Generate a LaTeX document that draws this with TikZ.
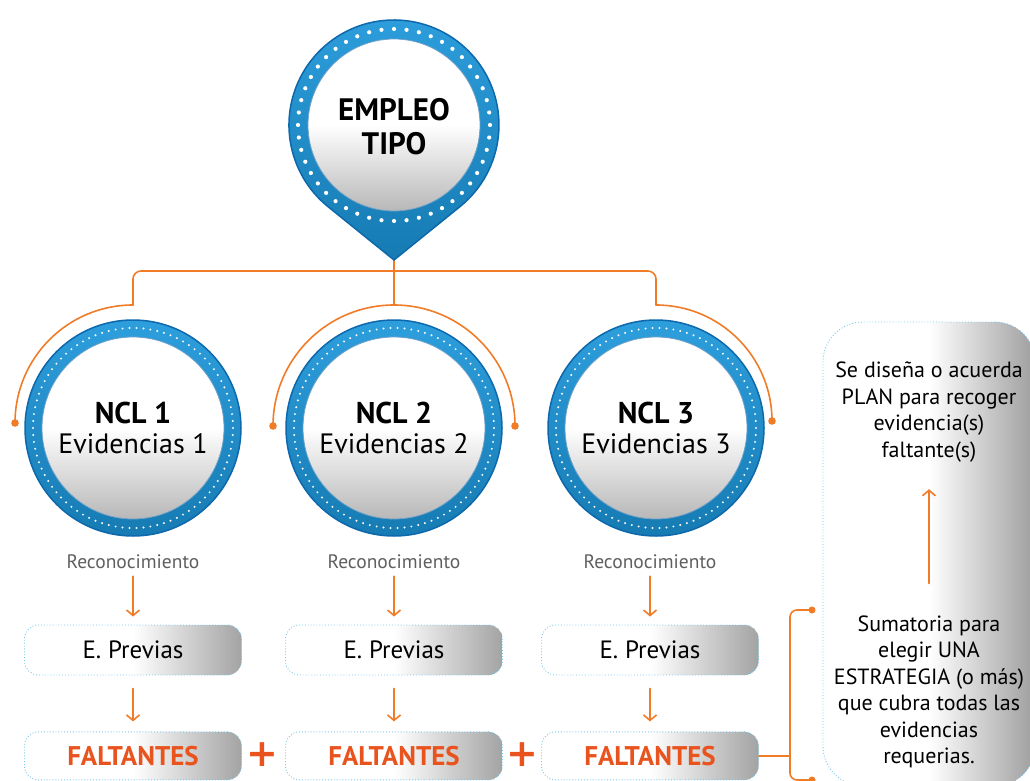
\documentclass[tikz,border=0pt]{standalone}
\usepackage{xcolor}
\usepackage{fontspec}
\setmainfont{PT Sans}
\newfontfamily\plusfont{DejaVu Sans}
\usetikzlibrary{positioning,arrows.meta}

\definecolor{ringblue}{RGB}{27,150,218}
\definecolor{ringedge}{RGB}{14,104,172}
\definecolor{linkorange}{RGB}{241,124,40}
\definecolor{missred}{RGB}{233,83,30}
\definecolor{boxdots}{RGB}{120,200,235}
\definecolor{softgrey}{RGB}{95,95,95}

\begin{document}
\begin{tikzpicture}[x=1pt, y=1pt,
		link/.style={draw=linkorange, line width=1.6pt, line cap=round},
		linkarrow/.style={link, -{Straight Barb[length=5.5pt, width=13pt]}},
		ring/.style={top color=ringblue!92!white, bottom color=ringblue!82!black, draw=ringedge, line width=1.5pt},
		face/.style={top color=white, bottom color=black!28, middle color=white, draw=ringedge!60, line width=0.8pt},
		headtext/.style={align=center, inner sep=0pt, font=\fontsize{31}{34}\selectfont\bfseries},
		ncltext/.style={align=center, inner sep=0pt, font=\fontsize{28}{30}\selectfont},
		rectext/.style={inner sep=0pt, text=softgrey, font=\fontsize{19.5}{22}\selectfont},
		evbox/.style={rounded corners=14pt, minimum width=217pt, minimum height=50pt, draw=boxdots, dotted, line width=0.9pt, left color=white, right color=black!36, middle color=white, text=black, font=\fontsize{25}{28}\selectfont},
		missbox/.style={evbox, minimum height=48pt, text=missred, font=\fontsize{27}{29}\selectfont\bfseries},
		plussign/.style={inner sep=0pt, text=missred, font=\plusfont\fontsize{38}{40}\selectfont\bfseries},
		planbox/.style={rounded corners=40pt, minimum width=212pt, minimum height=464pt, draw=boxdots, dotted, line width=0.9pt, left color=white, right color=black!38, middle color=white},
		plantext/.style={align=center, inner sep=0pt, font=\fontsize{22}{26.5}\selectfont}
	]
	\useasboundingbox (0,0) rectangle (1030,-781);

	\coordinate (pintip) at (394,-260);
	\coordinate (top1) at (133,-305);
	\coordinate (top2) at (394,-305);
	\coordinate (top3) at (656,-305);
	\draw[link, rounded corners=8pt] (top1) |- (394,-271) -| (top3);
	\draw[link] (pintip) -- (top2);
	\draw[link] (top1) arc[start angle=90, end angle=180, radius=118] coordinate (dot1);
	\draw[link] (top2) arc[start angle=90, end angle=180, radius=121] coordinate (dot2);
	\draw[link] (top2) arc[start angle=90, end angle=0, radius=121] coordinate (dot3);
	\draw[link] (top3) arc[start angle=90, end angle=0, radius=116] coordinate (dot4);
	\foreach \d in {dot1,dot2,dot3,dot4}
		\fill[linkorange] (\d) circle (3.8);

	\filldraw[ring] (pintip) -- (459.9,-206.7) arc[start angle=-51.1, end angle=231.1, radius=105] -- cycle;
	\filldraw[face] (394,-125) circle (86);
	\foreach \a in {0,7.5,...,352.5}
		\fill[white] (394,-125) ++(\a:96) circle (2.1);
	\node[headtext] (empleo) at (394,-127) {EMPLEO\\TIPO};

	\foreach \cx/\k in {133/1,394/2,656/3}{
		\filldraw[ring] (\cx,-428) circle (108);
		\filldraw[face] (\cx,-428) circle (91);
		\foreach \a in {0,4,...,356}
			\fill[white] (\cx,-428) ++(\a:100) circle (1.1);
		\node[ncltext] (ncl\k) at (\cx,-428) {{\fontsize{30}{30}\selectfont\bfseries NCL \k}\\Evidencias \k};
	}

	\foreach \cx/\k in {133/1,394/2,650/3}{
		\node[rectext] (rec\k) at (\cx,-562) {Reconocimiento};
		\node[evbox] (prev\k) at (\cx,-650) {E. Previas};
		\node[missbox, below=56pt of prev\k] (miss\k) {FALTANTES};
		\draw[linkarrow, shorten <=7pt, shorten >=8pt] (rec\k) -- (prev\k);
		\draw[linkarrow, shorten <=13pt, shorten >=10pt] (prev\k) -- (miss\k);
	}
	\node[plussign] (plus1) at (262,-755) {+};
	\node[plussign] (plus2) at (522,-755) {+};

	\node[planbox] (plan) at (929,-554) {};
	\node[plantext] (design) at (929,-412) {Se diseña o acuerda\\PLAN para recoger\\evidencia(s)\\faltante(s)};
	\node[plantext] (sum) at (929,-692) {Sumatoria para\\elegir UNA\\ESTRATEGIA (o más)\\que cubra todas las\\evidencias\\requerias.};
	\draw[linkarrow, shorten <=32pt, shorten >=27pt] (sum) -- (design);

	\coordinate (brtop) at (812,-610);
	\coordinate (brbot) at (812,-780);
	\coordinate (brmid) at (790,-756);
	\draw[link, rounded corners=7pt] (brtop) -| (790,-700) |- (brbot);
	\draw[link] (miss3) -- (brmid);
	\fill[linkorange] (brtop) circle (3.5);
	\fill[linkorange] (brbot) circle (3.5);
\end{tikzpicture}
\end{document}
